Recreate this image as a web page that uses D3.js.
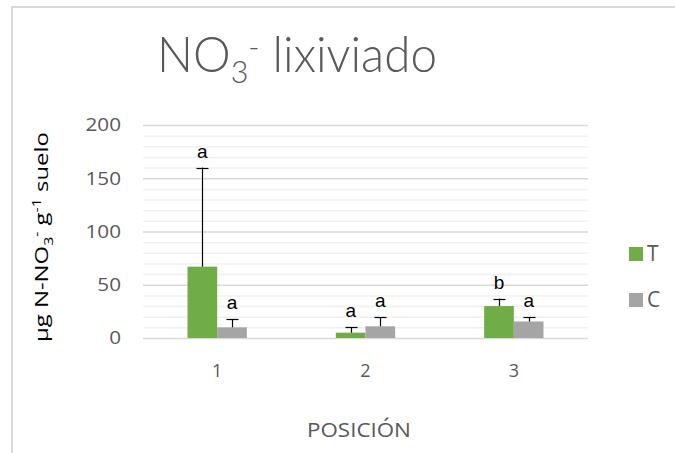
<!DOCTYPE html>
<html><head><meta charset="utf-8">
<script src="https://cdn.jsdelivr.net/npm/d3@7"></script>
<style>body{margin:0;background:#fff}svg{display:block}</style>
</head><body>
<svg id="c" width="675" height="453"></svg>
<script>
const categories = ["1","2","3"];
const seriesNames = ["T","C"];
const valuesT = [67, 5, 30];
const valuesC = [10, 11, 15.5];
const errorsT = [93, 5, 7];
const errorsC = [7.5, 8.5, 4];
const lettersT = ["a","a","b"];
const lettersC = ["a","a","a"];
const yTicks = [0, 50, 100, 150, 200];
const colors = {T:"#70ad47", C:"#a5a5a5"};

const svg = d3.select("#c");
const font = "'Open Sans', 'Noto Sans', sans-serif";
const m = {left:143, right:588, top:125, bottom:338};

function fit(g, tx, ty, rot, target, anchor) {
  const bb = g.node().getBBox();
  const s = target / bb.width;
  let off = -bb.x;
  if (anchor === "middle") off = -(bb.x + bb.width/2);
  if (anchor === "end") off = -(bb.x + bb.width);
  g.attr("transform", `translate(${tx},${ty}) rotate(${rot}) scale(${s},1) translate(${off},0)`);
}

svg.append("path").attr("d","M12,453 V7 H675").attr("fill","none").attr("stroke","#d9d9d9").attr("stroke-width",2);

const x = d3.scaleBand().domain(categories).range([m.left, m.right]);
const y = d3.scaleLinear().domain([0,200]).range([m.bottom, m.top]);
const barW = x.bandwidth() / 5;
const xs = d3.scaleBand().domain(seriesNames).range([x.bandwidth()/2 - barW, x.bandwidth()/2 + barW]);

const minor = d3.range(0, 201, 10).filter(v => v % 50 !== 0);
svg.append("g").selectAll("line").data(minor).join("line")
  .attr("x1", m.left).attr("x2", m.right)
  .attr("y1", d => y(d)+0.5).attr("y2", d => y(d)+0.5)
  .attr("stroke","#f0f0f0").attr("stroke-width",1.5);
svg.append("g").selectAll("line").data(yTicks).join("line")
  .attr("x1", m.left).attr("x2", m.right)
  .attr("y1", d => y(d)+0.5).attr("y2", d => y(d)+0.5)
  .attr("stroke","#d9d9d9").attr("stroke-width",1.5);

const yAxis = d3.axisLeft(y).tickValues(yTicks).tickSize(0).tickPadding(0);
const ga = svg.append("g").call(yAxis);
ga.select(".domain").remove();
ga.selectAll(".tick").each(function(d){
  const t = d3.select(this);
  t.select("text").attr("x",0).attr("y",0).attr("font-family",font).attr("font-size",18)
    .attr("fill","#595959").attr("dy","0.35em").attr("text-anchor","end");
  t.attr("transform", `translate(121,${y(d)}) scale(1.15,1)`);
});

const xAxis = d3.axisBottom(x).tickSize(0).tickPadding(0);
const gx = svg.append("g").attr("transform",`translate(0,371)`).call(xAxis);
gx.select(".domain").remove();
gx.selectAll("text").attr("font-family",font).attr("font-size",18).attr("fill","#595959").attr("dy","0.35em");

const data = categories.map((c,i)=>[
  {cat:c, s:"T", v:valuesT[i], e:errorsT[i], l:lettersT[i]},
  {cat:c, s:"C", v:valuesC[i], e:errorsC[i], l:lettersC[i]}
]).flat();

svg.append("g").selectAll("rect").data(data).join("rect")
  .attr("x", d => x(d.cat) + xs(d.s))
  .attr("width", xs.bandwidth())
  .attr("y", d => y(d.v))
  .attr("height", d => y(0) - y(d.v))
  .attr("fill", d => colors[d.s]);

const eb = svg.append("g").attr("stroke","#000").attr("stroke-width",1.2);
data.forEach(d => {
  const cx = Math.round(x(d.cat) + xs(d.s) + xs.bandwidth()/2) + 0.5;
  eb.append("line").attr("x1",cx).attr("x2",cx).attr("y1",y(d.v)).attr("y2",y(d.v+d.e));
  eb.append("line").attr("x1",cx-6).attr("x2",cx+6).attr("y1",Math.round(y(d.v+d.e))+0.5).attr("y2",Math.round(y(d.v+d.e))+0.5);
});

svg.append("g").selectAll("text").data(data).join("text")
  .attr("x", d => x(d.cat) + xs(d.s) + xs.bandwidth()/2)
  .attr("y", d => y(d.v+d.e) - 10)
  .attr("text-anchor","middle")
  .attr("font-family","'Liberation Sans', Arial, sans-serif")
  .attr("font-size",19).attr("fill","#000")
  .text(d => d.l);

const tg = svg.append("g");
const title = tg.append("text").attr("x",0).attr("y",0)
  .attr("font-family","Lato, 'Open Sans', sans-serif").attr("font-weight",300)
  .attr("font-size",50).attr("fill","#595959");
title.append("tspan").text("NO");
title.append("tspan").attr("font-size",32).attr("dy",11).text("3");
title.append("tspan").attr("font-size",32).attr("dy",-25).text("-");
title.append("tspan").attr("dy",14).text(" lixiviado");
fit(tg, 157, 72, 0, 280, "start");

const yg = svg.append("g");
const yt = yg.append("text").attr("x",0).attr("y",0)
  .attr("font-family",font).attr("font-size",18).attr("fill","#000");
yt.append("tspan").text("µg N-NO");
yt.append("tspan").attr("font-size",12).attr("dy",5).text("3");
yt.append("tspan").attr("font-size",12).attr("dy",-12).text("-");
yt.append("tspan").attr("dy",7).text(" g");
yt.append("tspan").attr("font-size",12).attr("dy",-7).text("-1");
yt.append("tspan").attr("dy",7).text(" suelo");
fit(yg, 48, 237, -90, 210, "middle");

const xg = svg.append("g");
xg.append("text").attr("x",0).attr("y",0)
  .attr("font-family",font).attr("font-size",20).attr("fill","#595959").text("POSICIÓN");
fit(xg, 359, 437, 0, 104, "middle");

const lg = svg.append("g");
seriesNames.forEach((s,i)=>{
  const yy = 247 + i*46;
  lg.append("rect").attr("x",629).attr("y",yy).attr("width",14).attr("height",14).attr("fill",colors[s]);
  lg.append("text").attr("x",647).attr("y",yy+7).attr("dy","0.35em")
    .attr("font-family",font).attr("font-size",21).attr("fill","#595959").text(s);
});
</script>
</body></html>
